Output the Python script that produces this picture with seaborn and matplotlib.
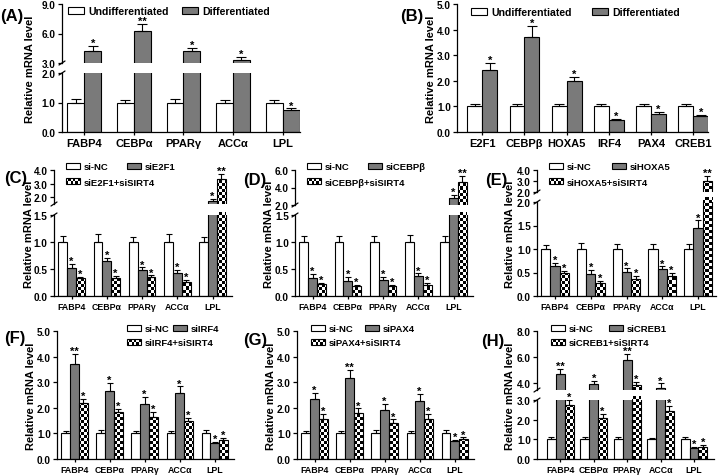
import numpy as np
import pandas as pd
import matplotlib
matplotlib.use("Agg")
import matplotlib.pyplot as plt
import seaborn as sns
from matplotlib.patches import Patch, Rectangle
from matplotlib.container import BarContainer
from matplotlib.legend_handler import HandlerBase
from matplotlib.ticker import FixedLocator, FormatStrFormatter

# ---------------- data ----------------
A_genes = ["FABP4", "CEBPα", "PPARγ", "ACCα", "LPL"]
A_groups = ["Undifferentiated", "Differentiated"]
A_undiff = [1.0, 1.0, 1.0, 1.0, 1.0]
A_undiff_err = [0.12, 0.10, 0.12, 0.10, 0.10]
A_diff = [4.17, 6.30, 4.17, 3.35, 0.73]
A_diff_err = [0.55, 0.70, 0.40, 0.30, 0.07]
A_sig = [[], ["*", "**", "*", "*", "*"]]

B_genes = ["E2F1", "CEBPβ", "HOXA5", "IRF4", "PAX4", "CREB1"]
B_groups = ["Undifferentiated", "Differentiated"]
B_undiff = [1.0, 1.0, 1.0, 1.0, 1.0, 1.0]
B_undiff_err = [0.10, 0.10, 0.10, 0.10, 0.09, 0.10]
B_diff = [2.43, 3.72, 1.98, 0.48, 0.72, 0.62]
B_diff_err = [0.28, 0.44, 0.16, 0.03, 0.07, 0.06]
B_sig = [[], ["*", "*", "*", "*", "*", "*"]]

si_genes = ["FABP4", "CEBPα", "PPARγ", "ACCα", "LPL"]

C_groups = ["si-NC", "siE2F1", "siE2F1+siSIRT4"]
C_nc = [1.0, 1.0, 1.0, 1.0, 1.0]
C_nc_err = [0.11, 0.14, 0.10, 0.14, 0.10]
C_si = [0.52, 0.64, 0.48, 0.43, 1.69]
C_si_err = [0.08, 0.07, 0.05, 0.05, 0.20]
C_combo = [0.33, 0.33, 0.35, 0.26, 3.33]
C_combo_err = [0.03, 0.04, 0.03, 0.04, 0.41]
C_sig = [[], ["*", "*", "*", "*", "*"], ["*", "*", "*", "*", "**"]]

D_groups = ["si-NC", "siCEBPβ", "siCEBPβ+siSIRT4"]
D_nc = [1.0, 1.0, 1.0, 1.0, 1.0]
D_nc_err = [0.12, 0.11, 0.12, 0.13, 0.11]
D_si = [0.34, 0.27, 0.30, 0.37, 2.83]
D_si_err = [0.07, 0.08, 0.06, 0.05, 0.37]
D_combo = [0.23, 0.19, 0.18, 0.21, 4.66]
D_combo_err = [0.02, 0.02, 0.02, 0.03, 0.68]
D_sig = [[], ["*", "*", "*", "*", "*"], ["*", "*", "*", "*", "**"]]

E_groups = ["si-NC", "siHOXA5", "siHOXA5+siSIRT4"]
E_nc = [1.0, 1.0, 1.0, 1.0, 1.0]
E_nc_err = [0.09, 0.13, 0.10, 0.10, 0.10]
E_si = [0.63, 0.46, 0.52, 0.57, 1.44]
E_si_err = [0.07, 0.10, 0.07, 0.06, 0.17]
E_combo = [0.48, 0.27, 0.36, 0.43, 3.00]
E_combo_err = [0.06, 0.05, 0.07, 0.07, 0.50]
E_sig = [[], ["*", "*", "*", "*", "*"], ["*", "*", "*", "*", "**"]]

F_groups = ["si-NC", "siIRF4", "siIRF4+siSIRT4"]
F_nc = [1.0, 1.0, 1.0, 1.0, 1.0]
F_nc_err = [0.08, 0.13, 0.10, 0.08, 0.13]
F_si = [3.73, 2.66, 2.14, 2.57, 0.62]
F_si_err = [0.39, 0.30, 0.30, 0.27, 0.06]
F_combo = [2.17, 1.82, 1.66, 1.47, 0.74]
F_combo_err = [0.19, 0.13, 0.17, 0.15, 0.08]
F_sig = [[], ["**", "*", "*", "*", "*"], ["*", "*", "*", "*", "*"]]

G_groups = ["si-NC", "siPAX4", "siPAX4+siSIRT4"]
G_nc = [1.0, 1.0, 1.0, 1.0, 1.0]
G_nc_err = [0.10, 0.10, 0.13, 0.10, 0.13]
G_si = [2.36, 3.16, 1.92, 2.27, 0.70]
G_si_err = [0.22, 0.32, 0.22, 0.26, 0.05]
G_combo = [1.56, 1.78, 1.40, 1.58, 0.78]
G_combo_err = [0.19, 0.20, 0.15, 0.17, 0.06]
G_sig = [[], ["*", "**", "*", "*", "*"], ["*", "*", "*", "*", "*"]]

H_groups = ["si-NC", "siCREB1", "siCREB1+siSIRT4"]
H_nc = [1.0, 1.0, 1.0, 1.0, 1.0]
H_nc_err = [0.10, 0.10, 0.10, 0.07, 0.10]
H_si = [4.75, 3.93, 5.80, 3.63, 0.56]
H_si_err = [0.35, 0.27, 0.45, 0.37, 0.07]
H_combo = [2.76, 2.08, 3.88, 2.46, 0.63]
H_combo_err = [0.24, 0.20, 0.25, 0.25, 0.08]
H_sig = [[], ["**", "*", "**", "*", "*"], ["*", "*", "*", "*", "*"]]

YLABEL = "Relative mRNA level"

# ---------------- style ----------------
sns.set_style("ticks")
plt.rcParams["font.family"] = ["Liberation Sans", "DejaVu Sans"]
plt.rcParams["font.weight"] = "bold"
for k in ["text.color", "axes.labelcolor", "xtick.color", "ytick.color", "axes.edgecolor"]:
    plt.rcParams[k] = "black"
plt.rcParams["axes.linewidth"] = 0.9

W, H = 720, 477
fig = plt.figure(figsize=(W / 100, H / 100), dpi=100)
GRAY = "#7a7a7a"
SQ = 3.0


class CheckerPatch(Patch):
    pass


class HandlerChecker(HandlerBase):
    def create_artists(self, legend, orig_handle, xdescent, ydescent, width, height, fontsize, trans):
        x0, y0 = -xdescent, -ydescent
        arts = [Rectangle((x0, y0), width, height, facecolor="white", edgecolor="none", transform=trans)]
        nx, ny = 6, 2
        for i in range(nx):
            for j in range(ny):
                if (i + j) % 2 == 0:
                    arts.append(Rectangle((x0 + i * width / nx, y0 + j * height / ny), width / nx, height / ny,
                                          facecolor="black", edgecolor="none", transform=trans))
        arts.append(Rectangle((x0, y0), width, height, facecolor="none", edgecolor="black", lw=0.8, transform=trans))
        return arts


def add_ax(x0, y0, x1, y1):
    return fig.add_axes([x0 / W, 1 - y1 / H, (x1 - x0) / W, (y1 - y0) / H])


def add_checker(ax, patch, wpx, hpx):
    nx = int(np.ceil(wpx / SQ)) + 1
    ny = int(np.ceil(hpx / SQ)) + 1
    arr = (np.add.outer(np.arange(ny), np.arange(nx)) % 2).astype(float)
    im = ax.imshow(arr, cmap="gray", vmin=0, vmax=1, origin="lower",
                   extent=(0, nx * SQ / wpx, 0, ny * SQ / hpx), transform=ax.transAxes,
                   interpolation="nearest", aspect="auto", zorder=patch.get_zorder() - 0.05)
    im.set_clip_path(patch)


def add_leg(handle, label, x, y, fs, hl, hh):
    fig.legend(handles=[handle], labels=[label], loc="center left",
               bbox_to_anchor=(x / W, 1 - y / H), frameon=False, borderpad=0, borderaxespad=0,
               handlelength=hl, handleheight=hh, handletextpad=0.4,
               prop={"size": fs, "weight": "bold"}, handler_map={CheckerPatch: HandlerChecker()})


def draw_panel(letter, genes, groups, vals, errs, sigs, colors, checker, xpx, xlim, width,
               segs, fs_xt, capsize, letter_pos, ylab_x, legend, leg_fs, hl, hh):
    rows = []
    for g, v in zip(groups, vals):
        for gene, val in zip(genes, v):
            rows.append({"gene": gene, "group": g, "value": val})
    df = pd.DataFrame(rows)
    nseg = len(segs)
    for si, (y0, y1, ylim, ticks) in enumerate(segs):
        ax = add_ax(xpx[0], y0, xpx[1], y1)
        wpx, hpx = xpx[1] - xpx[0], y1 - y0
        sns.barplot(data=df, x="gene", y="value", hue="group", order=genes, hue_order=groups,
                    palette=dict(zip(groups, colors)), errorbar=None, width=width,
                    edgecolor="black", linewidth=0.8, saturation=1, legend=False, ax=ax)
        bar_conts = [c for c in ax.containers if isinstance(c, BarContainer)]
        for k, cont in enumerate(bar_conts):
            bars = sorted(cont.patches, key=lambda p: p.get_x())
            for j, p in enumerate(bars):
                xc = p.get_x() + p.get_width() / 2
                top = p.get_height()
                ax.errorbar([xc], [top], yerr=[[0], [errs[k][j]]], fmt="none", ecolor="black",
                            elinewidth=0.8, capsize=capsize, capthick=0.8, zorder=4)
                if k in checker:
                    p.set_facecolor("none")
                    add_checker(ax, p, wpx, hpx)
                if sigs[k]:
                    yt = top + errs[k][j]
                    is_top_seg = (nseg == 1) or (si == 1 and yt > segs[0][2][1]) or (si == 0 and yt <= segs[0][2][1])
                    if is_top_seg:
                        ax.annotate(sigs[k][j], (xc, yt), xytext=(0, -1.5), textcoords="offset points",
                                    ha="center", va="bottom", fontsize=8, fontweight="bold",
                                    annotation_clip=False)
        ax.set_xlim(*xlim)
        ax.set_ylim(*ylim)
        ax.yaxis.set_major_locator(FixedLocator(ticks))
        ax.yaxis.set_major_formatter(FormatStrFormatter("%.1f"))
        ax.set_xlabel("")
        ax.set_ylabel("")
        ax.spines["top"].set_visible(False)
        ax.spines["right"].set_visible(False)
        ax.tick_params(axis="y", labelsize=7.2, length=3, width=0.9, pad=1.5)
        for t in ax.get_yticklabels():
            t.set_fontweight("bold")
        if si == 0:
            ax.tick_params(axis="x", labelsize=fs_xt, length=2.5, width=0.9, pad=2)
            for t in ax.get_xticklabels():
                t.set_fontweight("bold")
        else:
            ax.spines["bottom"].set_visible(False)
            ax.tick_params(axis="x", bottom=False, labelbottom=False)
        ax.patch.set_alpha(0)
        if nseg == 2:
            dx, dy = 3.0 / wpx, 2.0 / hpx
            yb = 1.0 if si == 0 else 0.0
            ax.plot([-dx, dx], [yb - dy, yb + dy], transform=ax.transAxes, color="black",
                    lw=0.9, clip_on=False)
    ytop = segs[-1][0]
    ybot = segs[0][1]
    fig.text(ylab_x / W, 1 - (ytop + ybot) / 2 / H, YLABEL, rotation=90, ha="center", va="center",
             fontsize=8.0, fontweight="bold")
    fig.text(letter_pos[0] / W, 1 - letter_pos[1] / H, "(" + letter + ")", ha="left", va="center",
             fontsize=12, fontweight="bold")
    for h, lab, lx, ly in legend:
        add_leg(h, lab, lx, ly, leg_fs, hl, hh)


hw = Patch(facecolor="white", edgecolor="black", lw=0.8)
hg = Patch(facecolor=GRAY, edgecolor="black", lw=0.8)
hc = CheckerPatch(facecolor="white", edgecolor="black")

si_colors = ["white", GRAY, "white"]

# (A)
draw_panel("A", A_genes, A_groups, [A_undiff, A_diff], [A_undiff_err, A_diff_err], A_sig,
           ["white", GRAY], [], (62, 300), (-0.45, 4.35), 0.68,
           [(74, 133, (0, 2.0), [0, 1, 2]), (5, 64, (3.0, 9.0), [3, 6, 9])],
           8, 3.5, (0, 17), 30,
           [(hw, "Undifferentiated", 68, 12), (hg, "Differentiated", 182, 12)], 7.6, 1.5, 0.6)

# (B)
draw_panel("B", B_genes, B_groups, [B_undiff, B_diff], [B_undiff_err, B_diff_err], B_sig,
           ["white", GRAY], [], (457, 708), (-0.6, 5.35), 0.71,
           [(5, 133, (0, 5.0), [0, 1, 2, 3, 4, 5])],
           8, 3.5, (400, 17), 431,
           [(hw, "Undifferentiated", 471, 13), (hg, "Differentiated", 592, 13)], 7.6, 1.5, 0.6)

# (C)
draw_panel("C", si_genes, C_groups, [C_nc, C_si, C_combo], [C_nc_err, C_si_err, C_combo_err], C_sig,
           si_colors, [2], (54, 232), (-0.5, 4.55), 0.75,
           [(216, 297, (0, 1.5), [0, 0.5, 1.0, 1.5]), (171, 205, (1.5, 4.0), [2, 3, 4])],
           6.3, 2.2, (4, 178), 29,
           [(hw, C_groups[0], 66, 168), (hg, C_groups[1], 127, 168), (hc, C_groups[2], 66, 183)],
           6.8, 1.5, 0.65)

# (D)
draw_panel("D", si_genes, D_groups, [D_nc, D_si, D_combo], [D_nc_err, D_si_err, D_combo_err], D_sig,
           si_colors, [2], (295, 473), (-0.5, 4.55), 0.75,
           [(216, 297, (0, 1.5), [0, 0.5, 1.0, 1.5]), (171, 206, (2.0, 6.0), [2, 4, 6])],
           6.3, 2.2, (243, 181), 269,
           [(hw, D_groups[0], 307, 168), (hg, D_groups[1], 368, 168), (hc, D_groups[2], 307, 183)],
           6.8, 1.5, 0.65)

# (E)
draw_panel("E", si_genes, E_groups, [E_nc, E_si, E_combo], [E_nc_err, E_si_err, E_combo_err], E_sig,
           si_colors, [2], (537, 716), (-0.5, 4.5), 0.78,
           [(203, 297, (0, 2.0), [0, 0.5, 1.0, 1.5, 2.0]), (171, 193, (2.0, 4.0), [2, 3, 4])],
           6.3, 2.2, (485, 180), 510,
           [(hw, E_groups[0], 549, 168), (hg, E_groups[1], 612, 168), (hc, E_groups[2], 549, 183)],
           6.8, 1.5, 0.65)

# (F)
draw_panel("F", si_genes, F_groups, [F_nc, F_si, F_combo], [F_nc_err, F_si_err, F_combo_err], F_sig,
           si_colors, [2], (57, 234), (-0.5, 4.55), 0.75,
           [(332, 460, (0, 5.0), [0, 1, 2, 3, 4, 5])],
           6.3, 2.2, (4, 339), 31,
           [(hw, F_groups[0], 127, 330), (hg, F_groups[1], 173, 330), (hc, F_groups[2], 127, 344)],
           6.8, 1.5, 0.65)

# (G)
draw_panel("G", si_genes, G_groups, [G_nc, G_si, G_combo], [G_nc_err, G_si_err, G_combo_err], G_sig,
           si_colors, [2], (297, 474), (-0.5, 4.55), 0.75,
           [(332, 460, (0, 5.0), [0, 1, 2, 3, 4, 5])],
           6.3, 2.2, (243, 341), 271,
           [(hw, G_groups[0], 311, 330), (hg, G_groups[1], 365, 330), (hc, G_groups[2], 311, 344)],
           6.8, 1.5, 0.65)

# (H)
draw_panel("H", si_genes, H_groups, [H_nc, H_si, H_combo], [H_nc_err, H_si_err, H_combo_err], H_sig,
           si_colors, [2], (537, 714), (-0.7, 4.6), 0.8,
           [(401, 460, (0, 3.0), [0, 1, 2, 3]), (332, 391, (3.5, 8.0), [4, 6, 8])],
           6.3, 2.2, (481, 342), 510,
           [(hw, H_groups[0], 551, 330), (hg, H_groups[1], 609, 330), (hc, H_groups[2], 551, 344)],
           6.8, 1.5, 0.65)

fig.savefig("out.png", dpi=100)
